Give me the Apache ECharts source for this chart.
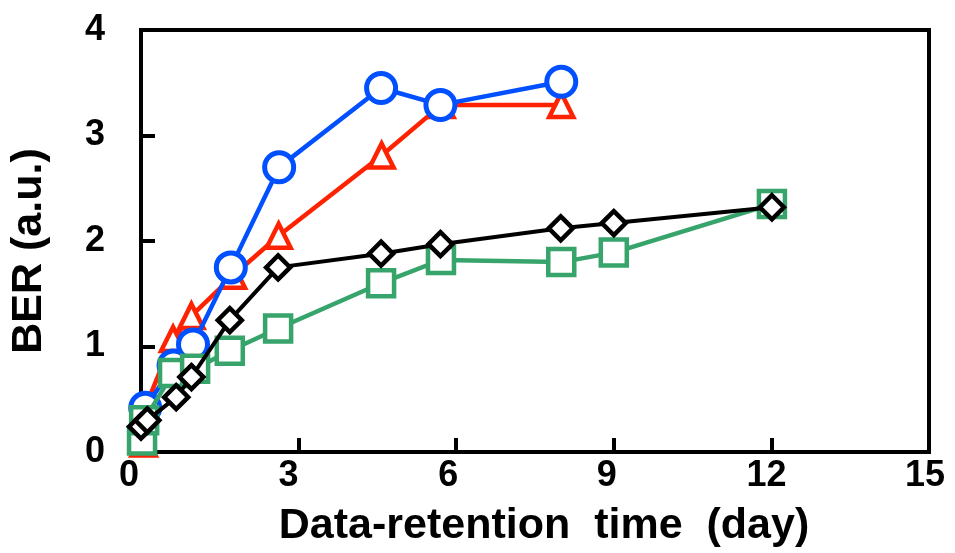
<!DOCTYPE html>
<html><head><meta charset="utf-8">
<script src="https://cdn.jsdelivr.net/npm/echarts@6/dist/echarts.min.js"></script>
<style>html,body{margin:0;padding:0;background:#fff}#c{width:955px;height:553px}</style>
</head><body><div id="c"></div>
<script>
// x tick labels
var xTicks = [0, 3, 6, 9, 12, 15];
var yTicks = [0, 1, 2, 3, 4];
// Blue circles
var blueX = [0.08, 0.62, 0.99, 1.71, 2.63, 4.57, 5.70, 8.00];
var blueY = [0.42, 0.82, 1.02, 1.75, 2.70, 3.45, 3.29, 3.51];
// Red triangles
var redX = [0.05, 0.08, 0.61, 0.96, 1.75, 2.62, 4.58, 5.72, 8.00];
var redY = [0.08, 0.42, 1.07, 1.29, 1.67, 2.05, 2.81, 3.29, 3.29];
// Green squares
var greenX = [0.02, 0.06, 0.61, 1.03, 1.69, 2.61, 4.57, 5.71, 8.00, 9.00, 12.01];
var greenY = [0.11, 0.30, 0.75, 0.79, 0.96, 1.17, 1.60, 1.82, 1.80, 1.89, 2.35];
// Black diamonds
var blackX = [0.00, 0.12, 0.67, 0.96, 1.69, 2.61, 4.57, 5.70, 7.99, 9.00, 12.01];
var blackY = [0.24, 0.30, 0.52, 0.71, 1.25, 1.75, 1.88, 1.97, 2.12, 2.17, 2.32];

function pairs(xs, ys){ return xs.map(function(x,i){return [x, ys[i]];}); }
function ser(name, xs, ys, color, symbol, size, lw, bw, z){
  return {name:name, type:'line', data:pairs(xs,ys), symbol:symbol, symbolSize:size,
    showAllSymbol:true, clip:false, z:z,
    lineStyle:{color:color, width:lw},
    itemStyle:{color:'#fff', borderColor:color, borderWidth:bw, opacity:1}};
}
var font = '"Liberation Sans", Arial, sans-serif';
var shifts = [12, 10, 8, 7, 5, 4];
var rich = {};
xTicks.forEach(function(t, i){
  rich['t' + i] = {fontFamily:font, fontWeight:'bold', fontSize:36, color:'#000', padding:[0, 2*shifts[i], 0, 0]};
});
var chart = echarts.init(document.getElementById('c'), null, {renderer:'canvas'});
chart.setOption({
  animation:false,
  grid:{left:139, right:26, top:30, bottom:101, show:true, borderColor:'#000', borderWidth:4, backgroundColor:'transparent'},
  xAxis:{type:'value', min:xTicks[0], max:xTicks[xTicks.length-1], interval:3,
    name:'Data-retention  time  (day)', nameLocation:'middle', nameGap:53,
    nameTextStyle:{fontFamily:font, fontWeight:'bold', fontSize:43, color:'#000', padding:[0,0,0,18]},
    axisLine:{lineStyle:{color:'#000', width:4}},
    axisTick:{inside:true, length:14, lineStyle:{color:'#000', width:4}},
    axisLabel:{fontFamily:font, fontWeight:'bold', fontSize:36, color:'#000', margin:6,
      formatter:function(v){ var i = xTicks.indexOf(v); return '{t' + i + '|' + v + '}'; },
      rich:rich},
    splitLine:{show:false}},
  yAxis:{type:'value', min:yTicks[0], max:yTicks[yTicks.length-1], interval:1,
    name:'BER (a.u.)', nameLocation:'middle', nameGap:90, nameRotate:90,
    nameTextStyle:{fontFamily:font, fontWeight:'bold', fontSize:43, color:'#000', padding:[0,20,0,0]},
    axisLine:{lineStyle:{color:'#000', width:4}},
    axisTick:{inside:true, length:14, lineStyle:{color:'#000', width:4}},
    axisLabel:{fontFamily:font, fontWeight:'bold', fontSize:36, color:'#000', margin:36},
    splitLine:{show:false}},
  series:[
    ser('red', redX, redY, '#ff2200', 'triangle', 24, 4.5, 4.5, 2),
    ser('blue', blueX, blueY, '#0050ff', 'circle', 29, 4.5, 5, 3),
    ser('green', greenX, greenY, '#36a46b', 'rect', 26, 4.5, 4.5, 4),
    ser('black', blackX, blackY, '#000000', 'diamond', 24, 4, 4.5, 5)
  ]
});
</script></body></html>
